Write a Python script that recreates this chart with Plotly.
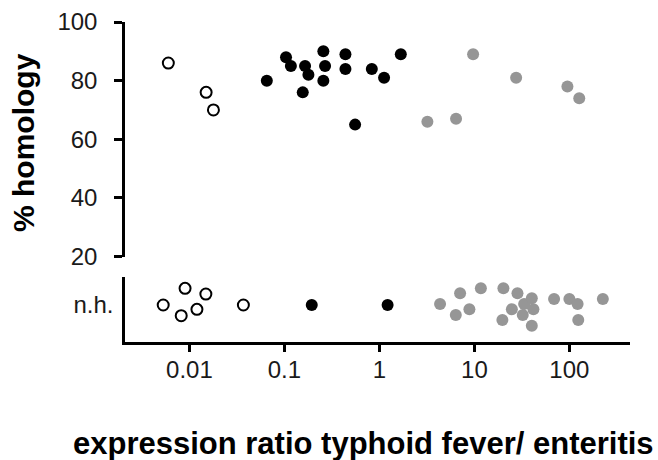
import plotly.graph_objects as go

# ---- data ----
# upper panel: genes with homology (% homology)
open_x = [0.0060, 0.015, 0.0179]
open_y = [86, 76, 70]
black_x = [0.0653, 0.104, 0.117, 0.165, 0.179, 0.156, 0.257, 0.268, 0.257, 0.439, 0.439, 0.832, 1.12, 0.555, 1.68]
black_y = [80, 88, 85, 85, 82, 76, 90, 85, 80, 89, 84, 84, 81, 65, 89]
gray_x = [9.69, 3.2, 6.41, 27.5, 95.3, 127]
gray_y = [89, 66, 67, 81, 78, 74]

# lower panel: no homology (n.h.), vertical jitter only
nh_open_x = [0.0053, 0.0090, 0.0082, 0.0120, 0.0149, 0.037]
nh_open_j = [0.0, 1.67, -1.07, -0.43, 1.1, 0.0]
nh_black_x = [0.194, 1.22]
nh_black_j = [0.0, 0.0]
nh_gray_x = [4.35, 7.07, 6.37, 8.86, 11.7, 20.2, 19.7, 28.4, 24.8, 33.4, 40.2, 32.3, 41.8, 40.2, 69, 100, 122, 124, 225]
nh_gray_j = [0.1, 1.17, -1.0, -0.43, 1.67, 1.67, -1.5, 1.17, -0.43, 0.1, 0.67, -1.0, -0.43, -2.07, 0.6, 0.6, 0.1, -1.5, 0.6]

x_ticks = [0.01, 0.1, 1, 10, 100]
x_ticktext = ["0.01", "0.1", "1", "10", "100"]
y_ticks = [20, 40, 60, 80, 100]

GRAY = "rgb(150,150,150)"
open_marker = dict(size=11, color="white", line=dict(color="black", width=2))
black_marker = dict(size=12, color="black", line=dict(width=0))
gray_marker = dict(size=12, color=GRAY, line=dict(width=0))

fig = go.Figure()
fig.add_trace(go.Scatter(x=open_x, y=open_y, mode="markers", marker=open_marker, xaxis="x", yaxis="y"))
fig.add_trace(go.Scatter(x=black_x, y=black_y, mode="markers", marker=black_marker, xaxis="x", yaxis="y"))
fig.add_trace(go.Scatter(x=gray_x, y=gray_y, mode="markers", marker=gray_marker, xaxis="x", yaxis="y"))
fig.add_trace(go.Scatter(x=nh_open_x, y=nh_open_j, mode="markers", marker=open_marker, xaxis="x", yaxis="y2"))
fig.add_trace(go.Scatter(x=nh_black_x, y=nh_black_j, mode="markers", marker=black_marker, xaxis="x", yaxis="y2"))
fig.add_trace(go.Scatter(x=nh_gray_x, y=nh_gray_j, mode="markers", marker=gray_marker, xaxis="x", yaxis="y2"))

FONT = "Liberation Sans, Arial, Helvetica, sans-serif"
tickfont = dict(family=FONT, size=24, color="#1a1a1a")

fig.update_layout(
    width=658, height=460,
    margin=dict(l=125, r=28, t=22, b=118),
    paper_bgcolor="white", plot_bgcolor="white",
    showlegend=False,
    xaxis=dict(
        type="log", range=[-2.678, 2.638], domain=[0, 1], anchor="y2", automargin=False,
        tickvals=x_ticks, ticktext=x_ticktext, ticks="outside", ticklen=7, tickwidth=2.5,
        tickcolor="black", showline=True, linecolor="black", linewidth=2.5,
        showgrid=False, zeroline=False, tickfont=tickfont, ticklabelstandoff=-3,
    ),
    yaxis=dict(
        range=[20, 100], domain=[0.267, 1.0], anchor="x", automargin=False,
        tickvals=y_ticks, ticks="outside", ticklen=8, tickwidth=2.5, tickcolor="black",
        showline=True, linecolor="black", linewidth=2.5, showgrid=False, zeroline=False,
        tickfont=tickfont, ticklabelstandoff=12,
    ),
    yaxis2=dict(
        range=[-3.7, 2.8], domain=[0, 0.203], anchor="x", automargin=False,
        tickvals=[0], ticktext=["n.h."], ticks="",
        showline=True, linecolor="black", linewidth=2.5, showgrid=False, zeroline=False,
        tickfont=tickfont, ticklabelstandoff=4,
    ),
    annotations=[
        dict(text="<b>% homology</b>", xref="paper", yref="paper", x=-0.2, y=0.622,
             textangle=-90, showarrow=False, xanchor="center", yanchor="middle",
             font=dict(family=FONT, size=30, color="black")),
        dict(text="<b>expression ratio typhoid fever/ enteritis</b>", xref="paper", yref="paper",
             x=0.473, y=-0.318, showarrow=False, xanchor="center", yanchor="middle",
             font=dict(family=FONT, size=31, color="black")),
    ],
)

fig.write_html(
    "out.html",
    config={"displayModeBar": False},
    post_script="document.body.style.margin='0';document.body.style.padding='0';",
)
